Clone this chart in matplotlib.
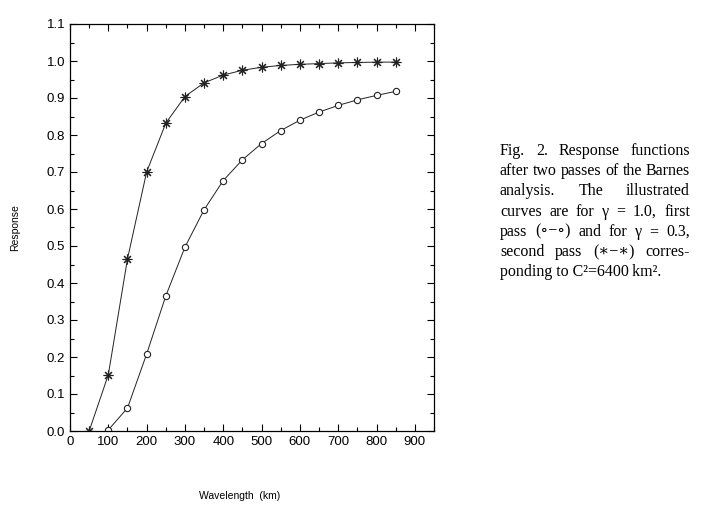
import matplotlib
matplotlib.use("Agg")
import matplotlib.pyplot as plt
from matplotlib.ticker import MultipleLocator

# Data
x_star = [50, 100, 150, 200, 250, 300, 350, 400, 450, 500, 550, 600, 650, 700, 750, 800, 850]
y_star = [0.0, 0.152, 0.465, 0.700, 0.832, 0.904, 0.941, 0.962, 0.975, 0.983, 0.988, 0.991, 0.993, 0.995, 0.996, 0.997, 0.997]
x_circ = [100, 150, 200, 250, 300, 350, 400, 450, 500, 550, 600, 650, 700, 750, 800, 850]
y_circ = [0.003, 0.062, 0.208, 0.365, 0.497, 0.598, 0.677, 0.733, 0.777, 0.812, 0.840, 0.862, 0.880, 0.895, 0.907, 0.918]

caption_lines = [
    "Fig. 2. Response functions",
    "after two passes of the Barnes",
    "analysis. The illustrated",
    "curves are for \u03b3 = 1.0, first",
    "pass (\u2218\u2212\u2218) and for \u03b3 = 0.3,",
    "second pass (\u2217\u2212\u2217) corres-",
    "ponding to C\u00b2=6400\u2009km\u00b2.",
]

plt.rcParams['font.family'] = ['Liberation Sans', 'DejaVu Sans']

W, H = 707, 509
fig = plt.figure(figsize=(W/100, H/100), dpi=100)
ax = fig.add_axes([70/W, 1 - 431/H, (434-70)/W, (431-24)/H])

ax.plot(x_star, y_star, color='#222222', lw=0.7, marker=(8, 2, 0), ms=7, mew=0.8)
ax.plot(x_circ, y_circ, color='#222222', lw=0.7, marker='o', ms=4.5, mfc='white', mec='#222222', mew=0.8)

ax.set_xlim(0, 950)
ax.set_ylim(0, 1.1)
ax.xaxis.set_major_locator(MultipleLocator(100))
ax.xaxis.set_minor_locator(MultipleLocator(50))
ax.yaxis.set_minor_locator(MultipleLocator(0.05))
ax.set_yticks([i/10 for i in range(12)])
ax.set_yticklabels([f"{i/10:.1f}" for i in range(12)])
ax.tick_params(which='both', direction='in', top=True, right=True, labelsize=9.5, width=0.8)
ax.tick_params(which='major', length=5)
ax.tick_params(which='minor', length=3)
for s in ax.spines.values():
    s.set_linewidth(0.9)

fig.text(15/W, 1 - 228/H, "Response", rotation=90, ha='center', va='center', fontsize=7.5)
fig.text(240/W, 1 - 496/H, "Wavelength  (km)", ha='center', va='center', fontsize=7.5)

# Justified caption
serif = ['Liberation Serif', 'DejaVu Serif']
renderer = fig.canvas.get_renderer()
left_px, right_px = 500, 690
y0 = 151
for i, line in enumerate(caption_lines):
    ypos = 1 - (y0 + i*20.2)/H
    if i == len(caption_lines) - 1:
        fig.text(left_px/W, ypos, line, ha='left', va='center', fontsize=11.5, family=serif)
        continue
    words = line.split(' ')
    texts = [fig.text(0, ypos, w, ha='left', va='center', fontsize=11.5, family=serif) for w in words]
    widths = [t.get_window_extent(renderer).width for t in texts]
    gap = (right_px - left_px - sum(widths)) / max(len(words) - 1, 1)
    xp = left_px
    for t, wd in zip(texts, widths):
        t.set_x(xp / W)
        xp += wd + gap

fig.savefig("out.png", dpi=100)
